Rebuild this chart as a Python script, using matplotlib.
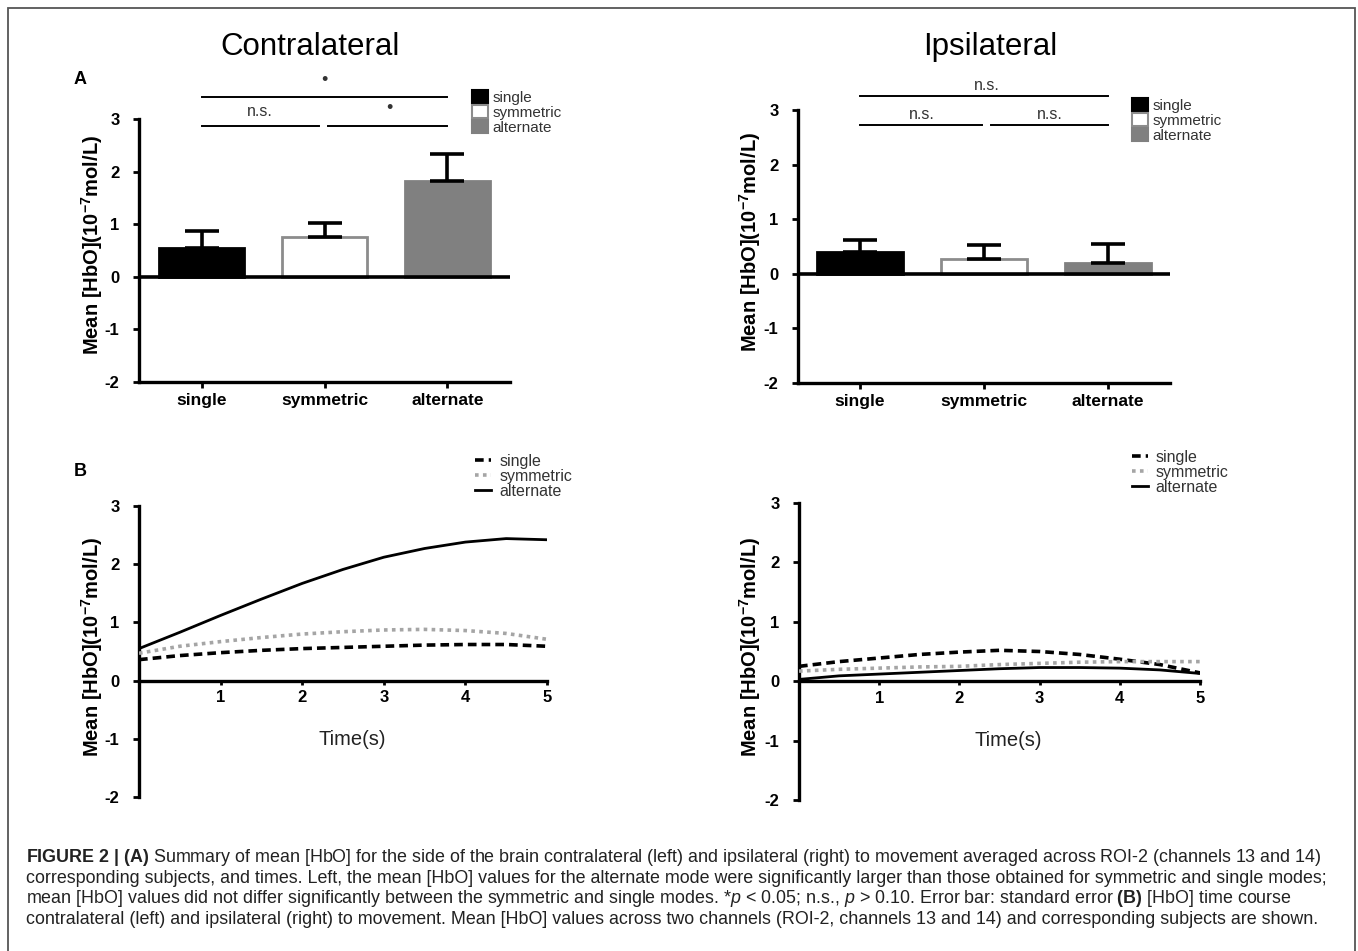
import matplotlib
matplotlib.use('Agg')
import matplotlib.pyplot as plt
from matplotlib.patches import Patch, Rectangle
from matplotlib.lines import Line2D

plt.rcParams['font.family'] = ['Liberation Sans', 'DejaVu Sans']
plt.rcParams['mathtext.fontset'] = 'custom'
plt.rcParams['mathtext.rm'] = 'Liberation Sans'
plt.rcParams['mathtext.bf'] = 'Liberation Sans:bold'
plt.rcParams['mathtext.it'] = 'Liberation Sans:italic'

# ---- data ----
modes = ['single', 'symmetric', 'alternate']
contra_mean = [0.55, 0.75, 1.83]
contra_se = [0.32, 0.28, 0.50]
ipsi_mean = [0.40, 0.28, 0.20]
ipsi_se = [0.21, 0.24, 0.35]

time_s = [0, 0.5, 1, 1.5, 2, 2.5, 3, 3.5, 4, 4.5, 5]
contra_single = [0.36, 0.43, 0.48, 0.52, 0.55, 0.57, 0.59, 0.61, 0.62, 0.62, 0.59]
contra_symmetric = [0.47, 0.59, 0.67, 0.74, 0.80, 0.84, 0.87, 0.88, 0.86, 0.81, 0.71]
contra_alternate = [0.55, 0.83, 1.12, 1.40, 1.67, 1.91, 2.12, 2.27, 2.38, 2.44, 2.42]
ipsi_single = [0.25, 0.33, 0.39, 0.45, 0.49, 0.52, 0.50, 0.45, 0.37, 0.28, 0.14]
ipsi_symmetric = [0.17, 0.20, 0.22, 0.24, 0.25, 0.28, 0.30, 0.32, 0.33, 0.33, 0.33]
ipsi_alternate = [0.03, 0.09, 0.12, 0.15, 0.18, 0.21, 0.23, 0.23, 0.22, 0.19, 0.13]

y_ticks = [-2, -1, 0, 1, 2, 3]
time_ticks = [1, 2, 3, 4, 5]

bar_face = ['black', 'white', '#808080']
bar_edge = ['black', '#8c8c8c', '#808080']
line_styles = [dict(color='black', ls=(0, (2.4, 1.4)), lw=2.6),
               dict(color='#a5a5a5', ls=(0, (1, 1.2)), lw=2.6),
               dict(color='black', ls='-', lw=2.0)]

YLABEL = r'Mean [HbO](10$^{\mathbf{-7}}$mol/L)'

caption = [
    r'$\mathbf{FIGURE\ 2\ |\ (A)}$ Summary of mean [HbO] for the side of the brain contralateral (left) and ipsilateral (right) to movement averaged across ROI-2 (channels 13 and 14)',
    'corresponding subjects, and times. Left, the mean [HbO] values for the alternate mode were significantly larger than those obtained for symmetric and single modes;',
    r'mean [HbO] values did not differ significantly between the symmetric and single modes. *$\mathit{p}$ < 0.05; n.s., $\mathit{p}$ > 0.10. Error bar: standard error $\mathbf{(B)}$ [HbO] time course',
    'contralateral (left) and ipsilateral (right) to movement. Mean [HbO] values across two channels (ROI-2, channels 13 and 14) and corresponding subjects are shown.',
]

W, H = 1358, 951
fig = plt.figure(figsize=(W / 100, H / 100), dpi=100)


def px_axes(left, right, top, bottom):
    return fig.add_axes([left / W, 1 - bottom / H, (right - left) / W, (bottom - top) / H])


def style_axis(ax, ylab_x, ylab_y):
    for s in ['top', 'right']:
        ax.spines[s].set_visible(False)
    ax.spines['left'].set_linewidth(2.4)
    ax.spines['bottom'].set_linewidth(2.4)
    ax.set_ylim(-2, 3)
    ax.set_yticks(y_ticks)
    ax.set_yticklabels([str(t) for t in y_ticks], fontsize=12, fontweight='bold')
    ax.tick_params(axis='y', direction='out', length=4, width=2, pad=10)
    ax.text(ylab_x, ylab_y, YLABEL, transform=ax.transAxes, rotation=90,
            ha='center', va='center', fontsize=14.5, fontweight='bold')


def bar_panel(ax, means, ses, xlim, lines, labels, leg_xy, ylab_x, ylab_y):
    x = list(range(len(modes)))
    ax.bar(x, means, width=0.69, color=bar_face, edgecolor=bar_edge, linewidth=2, zorder=2)
    ax.errorbar(x, means, yerr=[[0] * len(ses), ses], fmt='none', ecolor='black',
                elinewidth=2.6, capsize=12, capthick=2.6, zorder=3)
    ax.axhline(0, color='black', lw=2.6, zorder=4)
    ax.set_xlim(*xlim)
    ax.set_xticks(x)
    ax.set_xticklabels(modes, fontsize=12.5, fontweight='bold')
    ax.tick_params(axis='x', direction='out', length=4, width=2, pad=4)
    style_axis(ax, ylab_x, ylab_y)
    for x0, x1, y in lines:
        ax.plot([x0, x1], [y, y], color='black', lw=1.4, clip_on=False)
    for xt, yt, t in labels:
        ax.text(xt, yt, t, ha='center', va='center', fontsize=11.5 if t == 'n.s.' else 13,
                color='#333333', clip_on=False)
    handles = [Patch(facecolor=f, edgecolor=e, lw=1.5) for f, e in zip(bar_face, bar_edge)]
    ax.legend(handles, modes, loc='upper left', bbox_to_anchor=leg_xy, frameon=False,
              fontsize=11, handlelength=1.05, handleheight=0.95, handletextpad=0.3,
              labelspacing=0.0, borderpad=0, borderaxespad=0, labelcolor='#333333')


def time_panel(ax, series, leg_xy, tlab_xy, ylab_x, ylab_y):
    for vals, st in zip(series, line_styles):
        ax.plot(time_s, vals, **st, zorder=3)
    ax.set_xlim(0, 5)
    ax.spines['bottom'].set_position(('data', 0))
    ax.set_xticks(time_ticks)
    ax.set_xticklabels([str(t) for t in time_ticks], fontsize=12, fontweight='bold')
    ax.tick_params(axis='x', direction='out', length=3, width=2, pad=4)
    style_axis(ax, ylab_x, ylab_y)
    ax.text(tlab_xy[0], tlab_xy[1], 'Time(s)', transform=ax.transAxes,
            ha='center', va='center', fontsize=14.5, color='#222222')
    handles = [Line2D([], [], **st) for st in line_styles]
    ax.legend(handles, modes, loc='upper left', bbox_to_anchor=leg_xy, frameon=False,
              fontsize=11.5, handlelength=1.0, handletextpad=0.5, labelspacing=0.0,
              borderpad=0, borderaxespad=0, labelcolor='#333333')


# panel A, contralateral
ax1 = px_axes(139, 510, 119, 382)
bar_panel(ax1, contra_mean, contra_se, (-0.51, 2.51),
          lines=[(0, 2, 3.42), (0, 0.955, 2.87), (1.03, 2, 2.87)],
          labels=[(1.0, 3.74, '\u2022'), (0.47, 3.15, 'n.s.'), (1.53, 3.2, '\u2022')],
          leg_xy=(0.898, 1.11), ylab_x=-0.127, ylab_y=0.52)

# panel A, ipsilateral
ax2 = px_axes(798, 1170, 110, 383)
bar_panel(ax2, ipsi_mean, ipsi_se, (-0.5, 2.5),
          lines=[(0, 2, 3.25), (0, 0.98, 2.72), (1.06, 2, 2.72)],
          labels=[(1.02, 3.45, 'n.s.'), (0.5, 2.92, 'n.s.'), (1.53, 2.92, 'n.s.')],
          leg_xy=(0.898, 1.044), ylab_x=-0.129, ylab_y=0.516)

# panel B, contralateral
ax3 = px_axes(139, 547, 506, 797)
time_panel(ax3, [contra_single, contra_symmetric, contra_alternate],
           leg_xy=(0.824, 1.18), tlab_xy=(0.522, 0.196), ylab_x=-0.115, ylab_y=0.515)

# panel B, ipsilateral
ax4 = px_axes(799, 1200, 503, 800)
time_panel(ax4, [ipsi_single, ipsi_symmetric, ipsi_alternate],
           leg_xy=(0.83, 1.18), tlab_xy=(0.521, 0.202), ylab_x=-0.122, ylab_y=0.515)

# titles and panel letters
fig.text(310 / W, 1 - 47 / H, 'Contralateral', ha='center', va='center', fontsize=22.5)
fig.text(990 / W, 1 - 47 / H, 'Ipsilateral', ha='center', va='center', fontsize=22.5)
fig.text(80 / W, 1 - 80 / H, 'A', ha='center', va='center', fontsize=13, fontweight='bold')
fig.text(80 / W, 1 - 472 / H, 'B', ha='center', va='center', fontsize=13, fontweight='bold')

# caption
for i, line in enumerate(caption):
    fig.text(26 / W, 1 - (862 + 20.7 * i) / H, line, ha='left', va='baseline',
             fontsize=12.9, color='#222222')

# outer frame
fig.patches.append(Rectangle((8 / W, -0.01), 1347 / W, 1 - 8 / H + 0.01,
                             transform=fig.transFigure, fill=False,
                             edgecolor='#555555', lw=1.3))

fig.savefig('out.png', dpi=100)
